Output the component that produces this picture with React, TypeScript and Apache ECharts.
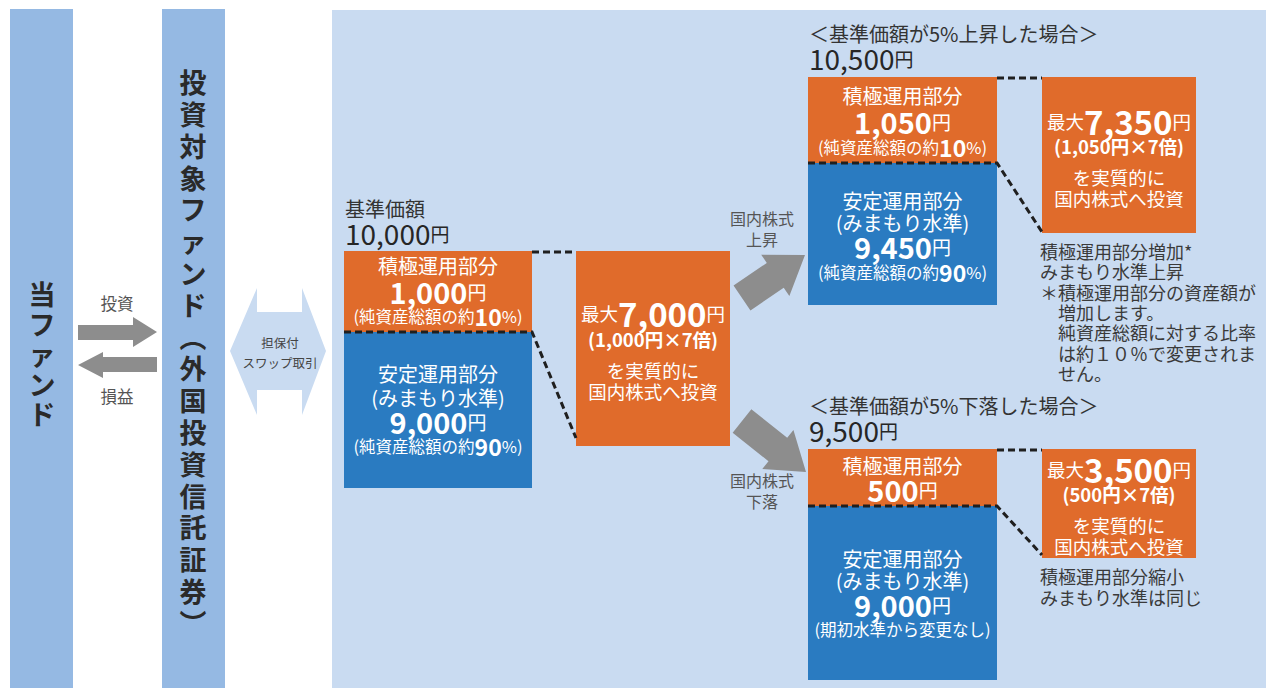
import React, { useEffect, useRef } from "react";
import * as echarts from "echarts";

const FONT = '"Noto Sans CJK JP", "Noto Sans", sans-serif';

// ---- texts & values ----
const sideLabels = ["当ファンド", "投資対象ファンド︵外国投資信託証券︶"];
const flowLabels = ["投資", "損益"];
const swapLabels = ["担保付", "スワップ取引"];
const scenarioTitles = ["基準価額", "＜基準価額が5%上昇した場合＞", "＜基準価額が5%下落した場合＞"];
const navValues = ["10,000", "10,500", "9,500"];
const activeLabel = "積極運用部分";
const stableLabel = "安定運用部分";
const stableSub = "(みまもり水準)";
const activeValues = ["1,000", "1,050", "500"];
const activeRatios = ["10", "10", ""];
const stableValues = ["9,000", "9,450", "9,000"];
const stableRatios = ["90", "90", ""];
const stableAltNote = "(期初水準から変更なし)";
const leverage = 7;
const exposureValues = ["7,000", "7,350", "3,500"];
const exposureLines = ["を実質的に", "国内株式へ投資"];
const moveLabels = [["国内株式", "上昇"], ["国内株式", "下落"]];
const upNotes = [
  "積極運用部分増加*",
  "みまもり水準上昇",
  "＊積極運用部分の資産額が",
  "増加します。",
  "純資産総額に対する比率",
  "は約１０％で変更されま",
  "せん。",
];
const downNotes = ["積極運用部分縮小", "みまもり水準は同じ"];

// ---- colours ----
const ORANGE = "#e06b2b";
const BLUE = "#2a7bc1";
const PANEL = "#c9dbf1";
const BAR = "#95b9e3";
const GRAY = "#8d8d8d";
const DARK = "#333333";

// ---- layout (positions only) ----
const LAYOUT = [
  {
    x: 344, w: 188, top: 251, split: 332, bottom: 488, bx: 576, bw: 154, bbottom: 446, diagY: 438,
    titleY: 208, navY: 233,
    oY: [265, 291, 316], sY: [373, 397, 421, 446], bY: [313, 339, 370, 391],
  },
  {
    x: 808, w: 189, top: 77, split: 163, bottom: 305, bx: 1042, bw: 154, bbottom: 233, diagY: 232,
    titleY: 33, navY: 58,
    oY: [95, 121, 147], sY: [200, 222, 246, 272], bY: [121, 146, 177, 198],
  },
  {
    x: 808, w: 189, top: 449, split: 506, bottom: 680, bx: 1042, bw: 154, bbottom: 558, diagY: 555,
    titleY: 405, navY: 430,
    oY: [465, 489], sY: [558, 580, 604, 629], bY: [469, 494, 525, 546],
  },
];

function rect(x: number, y: number, w: number, h: number, fill: string, z = 1) {
  return { type: "rect", z, shape: { x, y, width: w, height: h }, style: { fill } };
}

function txt(x: number, y: number, text: string, size: number, fill: string, extra: any = {}) {
  return {
    type: "text",
    z: 20,
    x,
    y,
    style: {
      text,
      fill,
      fontSize: size,
      fontFamily: FONT,
      align: "center",
      verticalAlign: "middle",
      ...extra,
    },
  };
}

function richTxt(x: number, y: number, text: string, rich: any, align = "center") {
  return {
    type: "text",
    z: 20,
    x,
    y,
    style: { text, fontFamily: FONT, align, verticalAlign: "middle", rich },
  };
}

function dashed(points: number[][]) {
  return {
    type: "polyline",
    z: 15,
    shape: { points },
    style: { stroke: "#1f1f1f", lineWidth: 3, lineDash: [7, 4], fill: null },
  };
}

function blockArrow(x1: number, y1: number, x2: number, y2: number, sw: number, hw: number, hl: number) {
  const dx = x2 - x1, dy = y2 - y1;
  const len = Math.hypot(dx, dy);
  const ux = dx / len, uy = dy / len;
  const nx = -uy, ny = ux;
  const bx = x2 - ux * hl, by = y2 - uy * hl;
  return {
    type: "polygon",
    z: 5,
    shape: {
      points: [
        [x1 + (nx * sw) / 2, y1 + (ny * sw) / 2],
        [bx + (nx * sw) / 2, by + (ny * sw) / 2],
        [bx + (nx * hw) / 2, by + (ny * hw) / 2],
        [x2, y2],
        [bx - (nx * hw) / 2, by - (ny * hw) / 2],
        [bx - (nx * sw) / 2, by - (ny * sw) / 2],
        [x1 - (nx * sw) / 2, y1 - (ny * sw) / 2],
      ],
    },
    style: { fill: GRAY },
  };
}

function buildGraphic() {
  const g: any[] = [];
  // columns & panel
  g.push(rect(10, 9, 63, 679, BAR));
  g.push(rect(162, 9, 63, 679, BAR));
  g.push(rect(332, 10, 934, 678, PANEL));

  // vertical captions
  g.push(txt(42, 353, sideLabels[0].split("").join("\n"), 27, "#2a2a2a", { fontWeight: "bold", lineHeight: 30 }));
  g.push(txt(193, 352, sideLabels[1].split("").join("\n"), 27, "#2a2a2a", { fontWeight: "bold", lineHeight: 31.8 }));

  // invest / profit arrows
  g.push({
    type: "polygon", z: 5,
    shape: { points: [[78, 325], [133, 325], [133, 317], [157, 332], [133, 347], [133, 340], [78, 340]] },
    style: { fill: GRAY },
  });
  g.push({
    type: "polygon", z: 5,
    shape: { points: [[157, 357], [103, 357], [103, 352], [78, 365], [103, 378], [103, 372], [157, 372]] },
    style: { fill: GRAY },
  });
  g.push(txt(117, 303, flowLabels[0], 16.5, "#555", { lineHeight: 18 }));
  g.push(txt(117, 396, flowLabels[1], 16.5, "#555", { lineHeight: 18 }));

  // swap double arrow
  g.push({
    type: "polygon", z: 3,
    shape: {
      points: [[230, 351], [257, 288], [257, 312], [302, 312], [302, 288], [326, 351], [302, 415], [302, 390], [257, 390], [257, 415]],
    },
    style: { fill: PANEL },
  });
  g.push(txt(280, 342, swapLabels[0], 12.5, "#444", { lineHeight: 14 }));
  g.push(txt(280, 362, swapLabels[1], 12.5, "#444", { lineHeight: 14 }));

  // scenarios
  LAYOUT.forEach((L, i) => {
    g.push(txt(L.x + 1, L.titleY, scenarioTitles[i], 20, DARK, { align: "left", lineHeight: 18 }));
    g.push(
      richTxt(L.x + 1, L.navY, `{n|${navValues[i]}}{u|円}`, {
        n: { fontSize: 28, fill: "#262626", fontFamily: FONT, lineHeight: 22 },
        u: { fontSize: 19, fill: "#262626", fontFamily: FONT, lineHeight: 22 },
      }, "left")
    );
    g.push(rect(L.x, L.top, L.w, L.split - L.top, ORANGE));
    g.push(rect(L.x, L.split, L.w, L.bottom - L.split, BLUE));
    g.push(rect(L.bx, L.top, L.bw, L.bbottom - L.top, ORANGE));

    const cx = L.x + L.w / 2;
    const W = "#ffffff";
    // active part
    g.push(txt(cx, L.oY[0], activeLabel, 20, W, { lineHeight: 20 }));
    g.push(
      richTxt(cx, L.oY[1], `{n|${activeValues[i]}}{u|円}`, {
        n: { fontSize: 29, fill: W, fontFamily: FONT, fontWeight: "bold", lineHeight: 22 },
        u: { fontSize: 19, fill: W, fontFamily: FONT, lineHeight: 22 },
      })
    );
    if (activeRatios[i]) {
      g.push(
        richTxt(cx, L.oY[2], `{a|(純資産総額の約}{b|${activeRatios[i]}}{a|%)}`, {
          a: { fontSize: 16.5, fill: W, fontFamily: FONT, lineHeight: 20 },
          b: { fontSize: 23, fill: W, fontFamily: FONT, fontWeight: "bold", lineHeight: 20 },
        })
      );
    }
    // stable part
    g.push(txt(cx, L.sY[0], stableLabel, 20, W, { lineHeight: 20 }));
    g.push(txt(cx, L.sY[1], stableSub, 20, W, { lineHeight: 20 }));
    g.push(
      richTxt(cx, L.sY[2], `{n|${stableValues[i]}}{u|円}`, {
        n: { fontSize: 29, fill: W, fontFamily: FONT, fontWeight: "bold", lineHeight: 22 },
        u: { fontSize: 19, fill: W, fontFamily: FONT, lineHeight: 22 },
      })
    );
    if (stableRatios[i]) {
      g.push(
        richTxt(cx, L.sY[3], `{a|(純資産総額の約}{b|${stableRatios[i]}}{a|%)}`, {
          a: { fontSize: 16.5, fill: W, fontFamily: FONT, lineHeight: 20 },
          b: { fontSize: 23, fill: W, fontFamily: FONT, fontWeight: "bold", lineHeight: 20 },
        })
      );
    } else {
      g.push(txt(cx, L.sY[3], stableAltNote, 16.5, W, { lineHeight: 20 }));
    }
    // leveraged exposure
    const bcx = L.bx + L.bw / 2;
    g.push(
      richTxt(bcx, L.bY[0], `{a|最大}{n|${exposureValues[i]}}{a|円}`, {
        a: { fontSize: 18.5, fill: W, fontFamily: FONT, lineHeight: 24 },
        n: { fontSize: 33, fill: W, fontFamily: FONT, fontWeight: "bold", lineHeight: 24 },
      })
    );
    g.push(txt(bcx, L.bY[1], `(${activeValues[i]}円×${leverage}倍)`, 18.5, W, { fontWeight: "bold", lineHeight: 20 }));
    g.push(txt(bcx, L.bY[2], exposureLines[0], 18.5, W, { lineHeight: 19 }));
    g.push(txt(bcx, L.bY[3], exposureLines[1], 18.5, W, { lineHeight: 19 }));

    // dashed connectors
    g.push(dashed([[L.x + L.w, L.top + 1], [L.bx, L.top + 1]]));
    g.push(dashed([[L.x, L.split], [L.x + L.w, L.split], [L.bx, L.diagY]]));
  });

  // move arrows
  g.push(blockArrow(742, 298, 805, 255, 30, 50, 36));
  g.push(blockArrow(742, 421, 806, 472, 30, 50, 36));
  g.push(txt(762, 218, moveLabels[0][0], 16, "#555", { lineHeight: 18 }));
  g.push(txt(762, 239, moveLabels[0][1], 16, "#555", { lineHeight: 18 }));
  g.push(txt(762, 480, moveLabels[1][0], 16, "#555", { lineHeight: 18 }));
  g.push(txt(762, 501, moveLabels[1][1], 16, "#555", { lineHeight: 18 }));

  // notes
  upNotes.forEach((line, k) => {
    g.push(txt(k >= 3 ? 1058 : 1040, 251 + k * 20.3, line, 18, "#3a3a3a", { align: "left", lineHeight: 19 }));
  });
  downNotes.forEach((line, k) => {
    g.push(txt(1040, 576 + k * 21, line, 18, "#3a3a3a", { align: "left", lineHeight: 19 }));
  });
  return g;
}

export default function App() {
  const ref = useRef<HTMLDivElement>(null);
  useEffect(() => {
    if (!ref.current) return;
    const chart = echarts.init(ref.current, undefined, { renderer: "svg" });
    chart.setOption({
      animation: false,
      backgroundColor: "#ffffff",
      graphic: { elements: buildGraphic() },
    });
    return () => chart.dispose();
  }, []);
  return (
    <div
      ref={ref}
      style={{ position: "absolute", left: 0, top: 0, width: 1266, height: 688 }}
    />
  );
}
